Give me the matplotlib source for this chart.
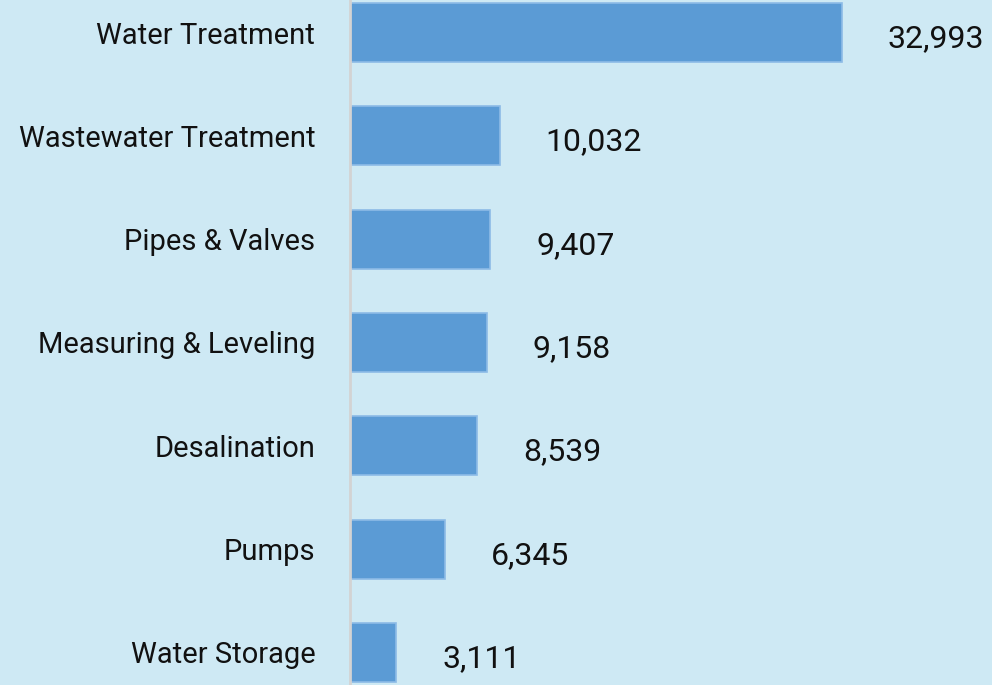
import numpy as np
import matplotlib.pyplot as plt

categories = ['Water Treatment', 'Wastewater Treatment', 'Pipes & Valves',
              'Measuring & Leveling', 'Desalination', 'Pumps', 'Water Storage']
values = [32993, 10032, 9407, 9158, 8539, 6345, 3111]

BG = '#CEE9F4'
BAR = '#5B9BD5'

fig = plt.figure(figsize=(9.92, 6.85), dpi=100, facecolor=BG)
ax = fig.add_axes([350/992, 0, 1 - 350/992, 1])
ax.set_facecolor(BG)

y = np.arange(len(categories))
ax.barh(y, values, height=0.57, color=BAR, edgecolor='#8DBBE6', linewidth=1.2)

ax.set_xlim(0, 43050)
ax.set_ylim(6.315, -0.315)

for s in ['top', 'right', 'bottom']:
    ax.spines[s].set_visible(False)
ax.spines['left'].set_color('#D3D3D3')
ax.spines['left'].set_linewidth(2)

ax.set_xticks([])
ax.set_yticks(y)
ax.set_yticklabels(categories, fontsize=21, family='Roboto', color='#111111')
ax.tick_params(axis='y', length=0, pad=25)

for yi, v in zip(y, values):
    ax.annotate(f'{v:,}', (v, yi), xytext=(33, -4.5), textcoords='offset points',
                ha='left', va='center', fontsize=23, family='Roboto', color='#111111')

fig.savefig('out.png', dpi=100, facecolor=BG)
